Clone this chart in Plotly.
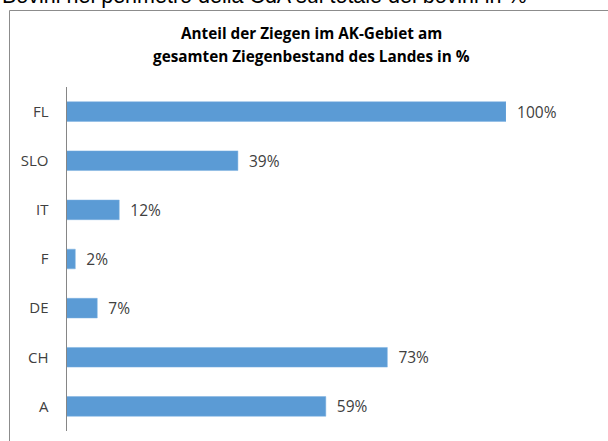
import plotly.graph_objects as go

categories = ["A", "CH", "DE", "F", "IT", "SLO", "FL"]
values = [59, 73, 7, 2, 12, 39, 100]
title_lines = ["Anteil der Ziegen im AK-Gebiet am",
               "gesamten Ziegenbestand des Landes in %"]
top_text = "Bovini nel perimetro della CdA sul totale dei bovini in %"

W, H = 608, 441
def px(x):
    return x / W
def py(y):
    return 1 - y / H

fig = go.Figure(go.Bar(
    x=values, y=categories, orientation="h",
    marker=dict(color="#5B9BD5", line=dict(color="#7DB1E0", width=0.5)),
    width=0.4,
    text=values, texttemplate="  %{x}%", textposition="outside",
    constraintext="none",
    textfont=dict(family="Open Sans", size=15.5, color="#404040"),
    cliponaxis=False, hoverinfo="skip",
))

annotations = [
    dict(text=top_text, xref="paper", yref="paper", x=px(0), y=py(-4),
         xanchor="left", yanchor="middle", showarrow=False,
         font=dict(family="Liberation Sans", size=21.5, color="#000000")),
]
for line, yc in zip(title_lines, [33, 56.5]):
    annotations.append(dict(text="<b>" + line + "</b>", xref="paper", yref="paper",
                            x=px(311), y=py(yc), xanchor="center", yanchor="middle",
                            showarrow=False,
                            font=dict(family="Open Sans", size=15.3, color="#000000")))

fig.update_layout(
    width=W, height=H,
    margin=dict(l=0, r=0, t=0, b=0, autoexpand=False),
    paper_bgcolor="white", plot_bgcolor="white",
    showlegend=False,
    xaxis=dict(domain=[px(66.5), px(506)], range=[0, 100], visible=False,
               automargin=False),
    yaxis=dict(domain=[py(431), py(87)], range=[-0.5, 6.5],
               showline=True, linecolor="#868686", linewidth=1,
               ticks="", showgrid=False, zeroline=False, automargin=False,
               tickfont=dict(family="Open Sans", size=15, color="#404040"),
               ticklabelstandoff=14),
    shapes=[dict(type="rect", xref="paper", yref="paper",
                 x0=px(9.5), x1=1.02, y0=-0.02, y1=py(10.5),
                 line=dict(color="#8c8c8c", width=1), fillcolor="rgba(0,0,0,0)")],
    annotations=annotations,
)

fig.write_html("out.html", config={"displayModeBar": False},
               post_script="document.body.style.margin='0';document.body.style.overflow='hidden';")
